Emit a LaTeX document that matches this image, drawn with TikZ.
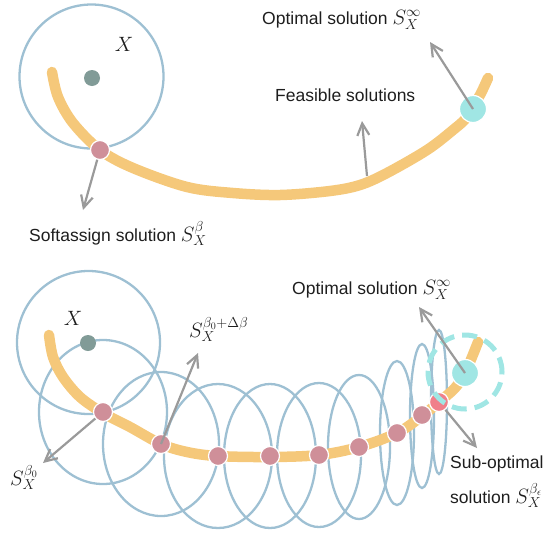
\documentclass[tikz,border=0pt]{standalone}
\usepackage{fontspec}
\setmainfont{Liberation Sans}
\usetikzlibrary{arrows.meta}
\definecolor{ringblue}{HTML}{9EC0D3}
\definecolor{feas}{HTML}{F5C87A}
\definecolor{rose}{HTML}{CF8F99}
\definecolor{brightrose}{HTML}{F07F8A}
\definecolor{cyanopt}{HTML}{A0E6E4}
\definecolor{inputdot}{HTML}{819B97}
\definecolor{arrowgray}{HTML}{9A9A9A}
\definecolor{txt}{HTML}{1E1E1E}
\newcommand{\Mlbl}[1]{{\fontsize{20}{24}\selectfont$#1$}}
\tikzset{
 ring/.style={draw=ringblue, line width=2.3pt},
 feasible/.style={draw=feas, line width=10.5pt, line cap=round, line join=round},
 soln/.style={circle, fill=rose, draw=white, line width=1.2pt, minimum size=19pt, inner sep=0pt},
 optdot/.style={circle, fill=cyanopt, draw=white, line width=1.2pt, minimum size=27pt, inner sep=0pt},
 xdot/.style={circle, fill=inputdot, minimum size=16pt, inner sep=0pt},
 pointer/.style={draw=arrowgray, line width=2.2pt, -{Straight Barb[length=12pt, width=12pt]}},
 lbl/.style={text=txt, font=\fontsize{17.5}{21}\selectfont, inner sep=0pt, anchor=base west},
 mlbl/.style={text=txt, font=\fontsize{20}{24}\selectfont, inner sep=0pt},
 optring/.style={draw=cyanopt, line width=5pt, dash pattern=on 15pt off 8pt},
}
\begin{document}
\begin{tikzpicture}[x=1pt, y=-1pt]
\useasboundingbox (0,0) rectangle (553,533);
% ---------------- top panel ----------------
\draw[ring] (91.5,76.5) circle[radius=72pt];
\draw[feasible] plot[smooth, tension=0.55] coordinates {(52,72) (58,97) (73,123) (100,150) (133,168) (187,187) (233,193) (280,195) (330,191) (360,185) (387,173) (427,150) (453,130) (467,117) (480,95) (488,78)};
\node[xdot] (x1) at (92,78) {};
\node[soln] (s1) at (100,150) {};
\node[optdot] (o1) at (473,109) {};
\node[mlbl] (xl1) at (124,44) {$X$};
\coordinate (f1) at (367,176);
\coordinate (e1) at (83,210);
\coordinate (e2) at (362,121);
\coordinate (e3) at (430,42);
\draw[pointer] (s1) -- (e1);
\draw[pointer] (f1) -- (e2);
\draw[pointer] (o1.center) -- (e3);
\node[lbl] (t1) at (29,241) {Softassign solution \Mlbl{S_X^{\beta}}};
\node[lbl] (t2) at (275,101) {Feasible solutions};
\node[lbl] (t3) at (262,24) {Optimal solution \Mlbl{S_X^{\infty}}};
% ---------------- bottom panel ----------------
\draw[ring] (88.5,342.5) circle[radius=71.5pt];
\foreach \cx/\cy/\rx in {103/412/64, 161/444/58, 218/456/54, 270/456/46, 319/455/42, 359/447/31, 397/433/17, 422/416/12, 439/402/8}
  \draw[ring] (\cx,\cy) ellipse[x radius=\rx pt, y radius=72pt];
\draw[feasible] plot[smooth, tension=0.55] coordinates {(49,335) (53,357) (63,377) (80,397) (103,413) (130,427) (161,444) (187,452) (217,456) (270,457) (319,455) (359,447) (397,433) (422,416) (439,402) (455,388) (465,373) (472,357) (478,342)};
\node[xdot] (x2) at (88,343) {};
\node[soln] (b1) at (103,412) {};
\node[soln] (b2) at (161,444) {};
\node[soln] (b3) at (218,456) {};
\node[soln] (b4) at (270,456) {};
\node[soln] (b5) at (319,455) {};
\node[soln] (b6) at (359,447) {};
\node[soln] (b7) at (397,433) {};
\node[soln] (b8) at (422,415) {};
\node[soln, fill=brightrose] (b9) at (439,402) {};
\node[optdot] (o2) at (465,373) {};
\draw[optring] (465,372) circle[radius=37pt];
\node[mlbl] (xl2) at (73,318) {$X$};
\coordinate (g1) at (43,463);
\coordinate (g2) at (198,353);
\coordinate (g3) at (419,307);
\coordinate (g4) at (477,448);
\draw[pointer] (b1) -- (g1);
\draw[pointer] (b2.center) -- (g2);
\draw[pointer] (o2.center) -- (g3);
\draw[pointer] (b9) -- (g4);
\node[mlbl, anchor=base west] (u1) at (10,485) {$S_X^{\beta_0}$};
\node[mlbl, anchor=base west] (u2) at (189,337) {$S_X^{\beta_0+\Delta\beta}$};
\node[lbl] (u3) at (292,294) {Optimal solution \Mlbl{S_X^{\infty}}};
\node[lbl] (u4) at (450,468) {Sub-optimal};
\node[lbl] (u5) at (450,503) {solution \Mlbl{S_X^{\beta_\epsilon}}};
\end{tikzpicture}
\end{document}
